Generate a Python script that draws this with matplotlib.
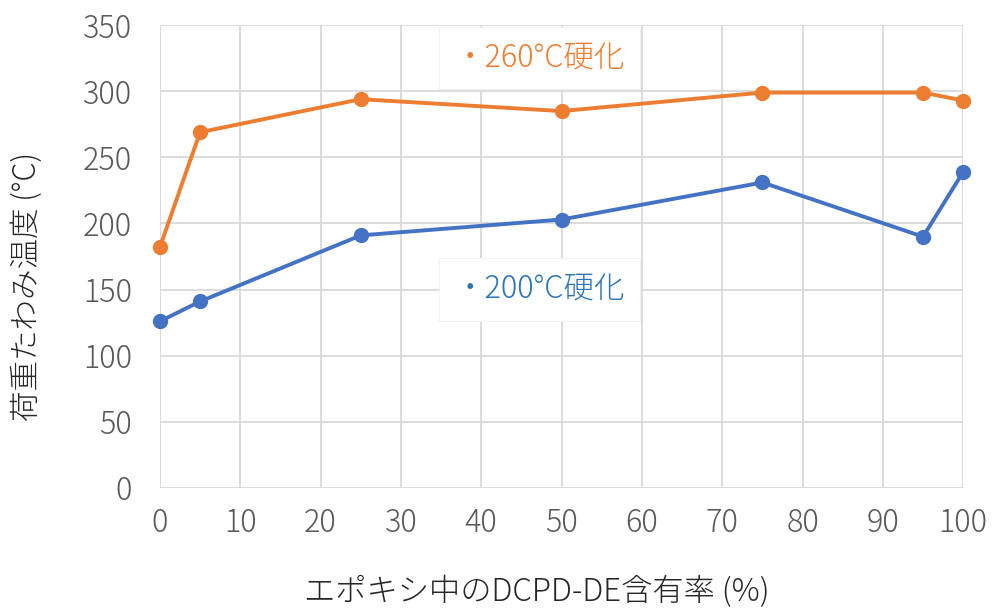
import matplotlib
matplotlib.use("Agg")
import matplotlib.pyplot as plt

plt.rcParams['font.family'] = ['Noto Sans CJK JP', 'DejaVu Sans']
plt.rcParams['font.weight'] = 'light'

x = [0, 5, 25, 50, 75, 95, 100]
cure260 = [182, 269, 294, 285, 299, 299, 293]
cure200 = [126, 141, 191, 203, 231, 190, 239]
label260 = "・260°C硬化"
label200 = "・200°C硬化"
xlabel = "エポキシ中のDCPD-DE含有率 (%)"
ylabel = "荷重たわみ温度 (°C)"
xticks = list(range(0, 101, 10))
yticks = list(range(0, 351, 50))

orange = "#ED7D31"
blue = "#4472C4"

fig = plt.figure(figsize=(9.93, 6.13), dpi=100)
ax = fig.add_axes([0.161, 0.204, 0.809, 0.755])

ax.plot(x, cure260, color=orange, lw=2.8, marker='o', ms=10, zorder=3, clip_on=False)
ax.plot(x, cure200, color=blue, lw=2.8, marker='o', ms=10, zorder=3, clip_on=False)

ax.set_xlim(0, 100)
ax.set_ylim(0, 350)
ax.set_xticks(xticks)
ax.set_yticks(yticks)
ax.grid(True, color="#D9D9D9", lw=1.3)
ax.set_axisbelow(True)
for s in ax.spines.values():
    s.set_visible(False)
ax.tick_params(length=0, labelsize=22, colors="#595959")
ax.tick_params(axis='y', pad=20)
ax.tick_params(axis='x', pad=14)

fig.text(0.541, 0.008, xlabel, fontsize=22.5, color="#262626", ha='center', va='bottom')
fig.text(0.027, 0.5334, ylabel, fontsize=22, color="#262626", ha='center', va='center', rotation=90)

bbox = dict(boxstyle="square,pad=0.5", fc="white", ec="#F2F2F2", lw=0.8)
ax.text(47.3, 325, label260, color=orange, fontsize=22, ha='center', va='center', bbox=bbox, zorder=4)
ax.text(47.3, 150, label200, color="#2E75B6", fontsize=22, ha='center', va='center', bbox=bbox, zorder=4)

fig.savefig("out.png", dpi=100)
